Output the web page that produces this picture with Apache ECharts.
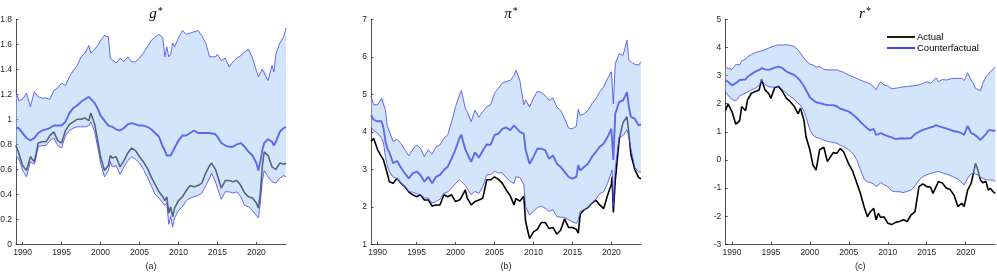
<!DOCTYPE html>
<html><head><meta charset="utf-8">
<script src="https://cdn.jsdelivr.net/npm/echarts@6/dist/echarts.min.js"></script>
<style>html,body{margin:0;padding:0;background:#fff}#c{width:997px;height:274px}</style>
</head><body><div id="c"></div>
<script>
const xTicks = [1990, 1995, 2000, 2005, 2010, 2015, 2020];

// ---- Panel (a): g* ----
const yearsG = [1989.15,1989.5,1990,1990.5,1991,1991.5,1992,1992.5,1993,1993.5,1994,1994.5,1995,1995.5,1996,1996.5,1997,1997.5,1998,1998.5,1998.75,1999.25,1999.75,2000,2000.5,2001,2001.25,2001.5,2002,2002.5,2003,2003.5,2004,2004.5,2005,2005.5,2006,2006.5,2007,2007.5,2008,2008.25,2008.5,2008.75,2009,2009.25,2009.5,2010,2010.5,2011,2011.5,2012,2012.5,2013,2013.5,2014,2014.25,2014.75,2015,2015.5,2016,2016.5,2017,2017.5,2018,2018.5,2019,2019.5,2020,2020.25,2020.5,2020.75,2021,2021.5,2022,2022.25,2022.5,2023,2023.5,2023.8];
const gUpper = [1.22,1.15,1.16,1.21,1.10,1.22,1.18,1.17,1.17,1.16,1.23,1.25,1.29,1.27,1.34,1.39,1.43,1.50,1.53,1.59,1.53,1.56,1.60,1.63,1.67,1.66,1.49,1.48,1.45,1.49,1.46,1.50,1.46,1.46,1.49,1.53,1.58,1.63,1.66,1.68,1.65,1.50,1.58,1.50,1.52,1.61,1.58,1.65,1.71,1.68,1.69,1.70,1.71,1.67,1.61,1.50,1.50,1.50,1.52,1.47,1.49,1.42,1.46,1.49,1.51,1.54,1.56,1.49,1.39,1.34,1.37,1.40,1.41,1.31,1.43,1.38,1.52,1.61,1.66,1.73];
const gMedian = [0.93,0.93,0.89,0.85,0.83,0.85,0.89,0.91,0.92,0.93,0.95,0.95,0.95,0.98,1.05,1.09,1.11,1.14,1.16,1.18,1.17,1.13,1.07,1.03,0.99,0.95,0.94,0.94,0.92,0.91,0.93,0.96,0.97,0.96,0.95,0.95,0.94,0.92,0.89,0.86,0.78,0.75,0.71,0.70,0.71,0.74,0.77,0.83,0.87,0.87,0.89,0.91,0.89,0.89,0.89,0.89,0.89,0.88,0.86,0.81,0.79,0.78,0.78,0.80,0.81,0.78,0.74,0.71,0.65,0.59,0.66,0.75,0.81,0.84,0.82,0.79,0.82,0.90,0.93,0.94];
const gLower = [0.70,0.69,0.59,0.54,0.66,0.64,0.78,0.79,0.79,0.83,0.85,0.79,0.77,0.87,0.91,0.93,0.94,0.94,0.94,0.95,0.98,0.90,0.74,0.65,0.54,0.59,0.66,0.62,0.63,0.56,0.62,0.67,0.70,0.68,0.65,0.60,0.54,0.47,0.40,0.37,0.33,0.31,0.33,0.16,0.22,0.14,0.21,0.27,0.30,0.35,0.37,0.38,0.39,0.41,0.47,0.53,0.57,0.50,0.45,0.36,0.42,0.42,0.41,0.42,0.38,0.31,0.30,0.27,0.23,0.21,0.33,0.50,0.59,0.54,0.50,0.49,0.49,0.53,0.55,0.54];
const gActual = [0.79,0.73,0.63,0.59,0.70,0.66,0.81,0.82,0.82,0.87,0.90,0.83,0.81,0.91,0.96,0.98,1.00,1.00,1.01,0.99,1.05,0.96,0.79,0.70,0.59,0.63,0.71,0.69,0.70,0.62,0.67,0.73,0.77,0.75,0.70,0.66,0.61,0.54,0.48,0.42,0.38,0.35,0.38,0.25,0.30,0.22,0.29,0.35,0.38,0.43,0.47,0.46,0.47,0.49,0.57,0.63,0.65,0.60,0.55,0.45,0.51,0.51,0.50,0.51,0.47,0.41,0.38,0.37,0.33,0.29,0.40,0.62,0.74,0.71,0.62,0.61,0.60,0.65,0.64,0.65];

// ---- Panel (b): pi* ----
const yearsP = [1989.15,1989.5,1990,1990.5,1990.75,1991,1991.25,1991.5,1992,1992.5,1993,1993.5,1994,1994.5,1995,1995.5,1996,1996.5,1997,1997.5,1998,1998.5,1999,1999.5,2000,2000.5,2000.75,2001.25,2001.5,2002,2002.5,2003,2003.5,2004,2004.5,2005,2005.5,2006,2006.5,2007,2007.5,2007.75,2008.25,2008.75,2009,2009.5,2010,2010.5,2011,2011.5,2012,2012.5,2013,2013.5,2014,2014.5,2015,2015.5,2015.75,2016,2016.5,2017,2017.5,2018,2018.5,2019,2019.5,2020,2020.1,2020.25,2020.5,2021,2021.5,2022,2022.25,2022.5,2023,2023.5,2023.8];
const piUpper = [4.95,4.72,4.72,4.89,4.94,4.58,4.14,4.12,3.74,3.80,3.69,3.52,3.36,3.53,3.65,3.56,3.34,3.52,3.41,3.60,3.65,3.83,3.92,4.27,4.67,4.98,5.10,4.63,4.54,4.27,4.58,4.39,4.54,4.67,4.72,5.03,5.16,5.30,5.34,5.37,5.50,5.64,5.37,4.72,4.85,4.66,4.90,5.08,5.05,4.97,4.84,4.90,4.66,4.57,4.35,4.10,4.08,4.15,4.60,4.44,4.48,4.57,4.75,4.88,5.06,5.20,5.42,5.60,5.58,4.75,5.82,6.08,6.04,6.44,5.90,5.85,5.80,5.78,5.87];
const piMedian = [4.45,4.32,4.28,4.28,4.10,3.75,3.55,3.45,3.16,3.22,3.04,2.89,2.76,2.89,2.94,2.85,2.67,2.80,2.63,2.80,2.85,2.98,3.07,3.29,3.53,3.83,3.92,3.53,3.50,3.20,3.45,3.31,3.50,3.66,3.65,3.91,3.95,4.08,4.12,4.04,4.17,4.22,4.00,3.95,3.51,3.15,3.33,3.55,3.55,3.51,3.28,3.37,3.15,3.06,2.93,2.80,2.75,2.80,3.11,2.97,3.06,3.15,3.33,3.46,3.60,3.68,3.86,4.08,4.05,3.25,4.48,4.80,4.84,5.06,4.66,4.40,4.35,4.17,4.20];
const piLower = [4.12,4.03,3.96,3.83,3.70,3.34,3.10,2.94,2.79,2.75,2.63,2.54,2.41,2.39,2.35,2.32,2.24,2.23,2.10,2.14,2.20,2.36,2.40,2.50,2.62,2.72,2.76,2.58,2.57,2.32,2.41,2.36,2.54,2.85,2.86,2.95,2.90,2.91,2.78,2.68,2.62,2.80,2.78,2.60,2.00,1.78,1.88,1.98,2.02,1.96,1.88,1.92,1.74,1.72,1.72,1.65,1.60,1.56,1.65,1.88,1.92,1.98,2.10,2.20,2.35,2.40,2.62,2.92,2.98,2.00,3.05,3.85,3.90,4.05,3.85,3.55,3.05,2.93,2.92];
const piActual = [3.75,3.82,3.52,3.34,3.25,3.07,2.88,2.67,2.63,2.76,2.63,2.54,2.40,2.32,2.27,2.32,2.18,2.18,2.02,2.05,2.05,2.32,2.27,2.32,2.14,2.18,2.25,2.45,2.23,2.05,2.14,2.18,2.23,2.72,2.72,2.80,2.73,2.63,2.45,2.30,2.05,2.22,2.15,2.28,1.60,1.15,1.33,1.40,1.58,1.58,1.42,1.45,1.27,1.38,1.68,1.45,1.45,1.40,1.30,1.80,1.92,1.98,2.10,2.18,2.05,1.95,2.30,2.60,2.80,1.85,2.70,3.80,4.25,4.40,3.95,3.40,3.00,2.78,2.75];

// ---- Panel (c): r* ----
const yearsR = [1989.15,1989.5,1990,1990.5,1991,1991.25,1991.75,1992,1992.5,1993,1993.5,1993.8,1994.25,1994.75,1995,1995.5,1996,1996.5,1997,1997.5,1998,1998.5,1998.8,1999.25,1999.5,2000,2000.4,2000.8,2001.25,2001.5,2001.8,2002.25,2002.5,2003,2003.5,2003.9,2004.3,2005,2005.5,2006,2006.5,2007,2007.4,2007.75,2008.2,2008.5,2008.8,2009.1,2009.5,2010,2010.5,2011,2011.5,2012,2012.5,2013,2013.5,2014,2014.5,2015,2015.5,2015.8,2016.2,2016.5,2017,2017.5,2018,2018.5,2019,2019.5,2019.8,2020.25,2020.7,2021,2021.25,2021.5,2021.9,2022.2,2022.6,2022.9,2023.2,2023.5,2023.8];
const rUpper = [3.32,3.25,3.22,3.40,3.38,3.52,3.58,3.67,3.74,3.82,3.85,3.88,3.92,3.98,4.03,4.06,4.09,4.09,4.09,4.08,4.03,3.91,3.80,3.62,3.53,3.41,3.38,3.30,3.32,3.25,3.22,3.20,3.22,3.20,3.20,3.15,3.12,3.02,2.96,2.90,2.84,2.78,2.75,2.70,2.60,2.49,2.66,2.78,2.67,2.63,2.53,2.55,2.57,2.60,2.61,2.63,2.64,2.67,2.72,2.78,2.73,2.80,2.92,2.78,2.86,2.84,2.88,2.90,2.90,2.90,2.82,3.10,2.84,2.72,2.55,2.50,2.46,2.73,2.95,3.05,3.15,3.22,3.30];
const rMedian = [2.84,2.78,2.65,2.73,2.84,2.82,2.86,2.96,3.05,3.14,3.20,3.26,3.22,3.20,3.22,3.28,3.32,3.26,3.14,3.08,3.02,2.90,2.80,2.62,2.49,2.23,2.13,2.05,2.02,2.04,1.98,1.95,1.95,1.95,1.90,1.82,1.79,1.72,1.62,1.50,1.35,1.22,1.12,1.05,1.10,0.89,0.92,0.95,0.90,0.85,0.80,0.74,0.76,0.77,0.76,0.78,0.92,1.00,1.07,1.11,1.16,1.18,1.24,1.20,1.16,1.12,1.07,1.02,1.00,0.95,0.89,1.21,0.95,0.92,0.89,0.82,0.71,0.80,0.92,1.05,1.06,1.04,1.04];
const rLower = [2.43,2.30,2.15,2.10,2.28,2.33,2.38,2.43,2.49,2.55,2.65,2.82,2.68,2.60,2.58,2.58,2.63,2.49,2.37,2.25,2.16,2.01,1.95,1.72,1.54,1.07,0.88,0.80,0.77,0.76,0.70,0.66,0.69,0.62,0.59,0.52,0.48,0.36,0.24,0.02,-0.35,-0.70,-0.78,-0.80,-0.86,-0.95,-0.88,-0.81,-0.88,-0.95,-1.10,-1.13,-1.13,-1.16,-1.12,-1.07,-0.92,-0.72,-0.59,-0.53,-0.48,-0.46,-0.42,-0.41,-0.46,-0.50,-0.55,-0.62,-0.68,-0.80,-0.89,-0.65,-0.50,-0.47,-0.50,-0.53,-0.62,-0.65,-0.70,-0.71,-0.71,-0.72,-0.77];
const rActual = [1.75,1.99,1.72,1.27,1.40,1.90,1.75,2.13,2.37,2.43,2.49,2.87,2.49,2.35,2.19,2.58,2.61,2.43,2.19,2.07,1.90,1.64,1.84,1.40,0.83,0.36,-0.18,-0.36,0.36,0.30,0.45,-0.06,0.00,0.26,0.24,0.41,0.30,-0.15,-0.40,-0.80,-1.20,-1.70,-2.02,-1.85,-1.72,-2.13,-1.90,-2.05,-2.02,-2.25,-2.30,-2.22,-2.19,-2.13,-2.19,-1.95,-1.84,-0.95,-0.85,-0.95,-0.97,-1.19,-0.95,-0.77,-0.82,-1.00,-1.05,-1.25,-1.66,-1.54,-1.66,-1.07,-0.83,-0.47,-0.12,-0.30,-0.71,-0.81,-0.77,-1.07,-1.01,-1.13,-1.19];

const FONT = "'Liberation Sans', Arial, sans-serif";
const AX = '#262626';
const FILL = 'rgba(168,204,246,0.5)';
const EDGE = '#4242f5';
const MID = '#5a6bef';

function pairs(xs, ys) { return xs.map((x, i) => [x, ys[i]]); }

function lineS(name, idx, xs, ys, color, width, z) {
  return { name, type: 'line', xAxisIndex: idx, yAxisIndex: idx, data: pairs(xs, ys), z,
    showSymbol: false, symbol: 'none', smooth: false, silent: true,
    lineStyle: { color, width }, itemStyle: { color } };
}
function bandS(idx, xs, lo, hi) {
  return { type: 'custom', xAxisIndex: idx, yAxisIndex: idx, silent: true, z: 2,
    data: xs.map((x, i) => [x, lo[i], hi[i]]), encode: { x: 0, y: [1, 2] },
    renderItem(params, api) {
      if (params.dataIndex !== 0) return null;
      const pts = [];
      for (let i = 0; i < xs.length; i++) pts.push(api.coord([xs[i], hi[i]]));
      for (let i = xs.length - 1; i >= 0; i--) pts.push(api.coord([xs[i], lo[i]]));
      return { type: 'polygon', shape: { points: pts }, style: { fill: FILL } };
    } };
}
function panelSeries(idx, xs, up, md, lo, ac, actName, cfName) {
  return [
    lineS(actName, idx, xs, ac, '#000000', 1.6, 1),
    bandS(idx, xs, lo, up),
    lineS('up' + idx, idx, xs, up, EDGE, 0.8, 3),
    lineS('lo' + idx, idx, xs, lo, EDGE, 0.8, 3),
    lineS(cfName, idx, xs, md, MID, 1.9, 3)
  ];
}

const lefts = [16, 371, 725.3];
const subLabels = ['(a)', '(b)', '(c)'];
const yCfg = [{ min: 0, max: 1.8, interval: 0.2 }, { min: 1, max: 7, interval: 1 }, { min: -3, max: 5, interval: 1 }];
const titles = [['g', 151], ['π', 506], ['r', 860]];

const option = {
  animation: false,
  backgroundColor: '#ffffff',
  title: titles.map(([t, x]) => ({
    text: '{i|' + t + '}{s|*}', left: x, top: 1, textAlign: 'center',
    textStyle: { fontWeight: 'normal', rich: {
      i: { fontFamily: "'Liberation Serif','DejaVu Serif',serif", fontStyle: 'italic', fontWeight: 'normal', fontSize: 15, color: '#000' },
      s: { fontFamily: "'Liberation Serif','DejaVu Serif',serif", fontWeight: 'normal', fontSize: 10, color: '#000', verticalAlign: 'top', padding: [0, 0, 6, 1] }
    } }
  })),
  legend: {
    data: [
      { name: 'Actual', icon: 'rect', itemStyle: { color: '#000000' } },
      { name: 'Counterfactual', icon: 'rect', itemStyle: { color: '#2b2bf5' } }
    ],
    orient: 'vertical', left: 882, top: 27,
    itemWidth: 28, itemHeight: 1.8, itemGap: 1,
    textStyle: { fontFamily: FONT, fontSize: 9.5, color: '#000', padding: [0, 0, 0, -3], lineHeight: 10 }
  },
  grid: lefts.map(l => ({ left: l, top: 19.3, width: 270, height: 225, outerBoundsMode: 'none', containLabel: false })),
  xAxis: lefts.map((l, i) => ({
    type: 'value', gridIndex: i, min: 1989.15, max: 2023.8,
    name: subLabels[i], nameLocation: 'middle', nameGap: 17,
    nameTextStyle: { fontFamily: FONT, fontSize: 9, color: AX },
    axisLine: { show: true, onZero: false, lineStyle: { color: AX, width: 0.8 } },
    axisTick: { show: true, inside: true, length: 2.5, customValues: xTicks, lineStyle: { color: AX, width: 0.8 } },
    axisLabel: { customValues: xTicks, formatter: v => String(v), fontFamily: FONT, fontSize: 8.5, color: AX, margin: 4 },
    splitLine: { show: false }
  })),
  yAxis: yCfg.map((c, i) => ({
    type: 'value', gridIndex: i, min: c.min, max: c.max, interval: c.interval,
    axisLine: { show: true, onZero: false, lineStyle: { color: AX, width: 0.8 } },
    axisTick: { show: true, inside: true, length: 2.5, lineStyle: { color: AX, width: 0.8 } },
    axisLabel: { fontFamily: FONT, fontSize: 8.5, color: AX, margin: 4 },
    splitLine: { show: false }
  })),
  series: [
    ...panelSeries(0, yearsG, gUpper, gMedian, gLower, gActual, 'Actual (a)', 'Counterfactual (a)'),
    ...panelSeries(1, yearsP, piUpper, piMedian, piLower, piActual, 'Actual (b)', 'Counterfactual (b)'),
    ...panelSeries(2, yearsR, rUpper, rMedian, rLower, rActual, 'Actual', 'Counterfactual')
  ]
};

const chart = echarts.init(document.getElementById('c'), null, { renderer: 'canvas' });
chart.setOption(option);
</script>
</body></html>
